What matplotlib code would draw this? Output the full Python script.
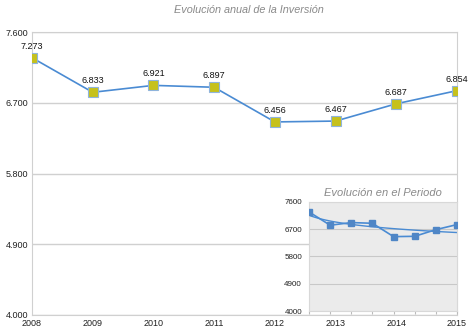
import numpy as np
import matplotlib
matplotlib.use('Agg')
import matplotlib.pyplot as plt
from matplotlib.ticker import FuncFormatter

plt.rcParams['font.family'] = ['Liberation Sans', 'DejaVu Sans']

# datos
years = [2008, 2009, 2010, 2011, 2012, 2013, 2014, 2015]
inversion = [7273, 6833, 6921, 6897, 6456, 6467, 6687, 6854]
y_ticks = [4000, 4900, 5800, 6700, 7600]

LINE = '#4a8bd3'
MARKER = '#c6c11c'
GRID = '#d0d0d0'


def miles(v, pos=None):
    """formato europeo: 7.600"""
    return '{:,.0f}'.format(v).replace(',', '.')


fig = plt.figure(figsize=(4.68, 3.3), dpi=100)

# grafico principal
ax = fig.add_axes([32 / 468, 1 - 315 / 330, 425 / 468, 283 / 330])
ax.plot(years, inversion, color=LINE, lw=1.2, marker='s', ms=7,
        mfc=MARKER, mec='#8fb4dc', mew=0.8, zorder=3)
for x, y in zip(years, inversion):
    ax.annotate(miles(y), (x, y), xytext=(0, 5), textcoords='offset points',
                ha='center', va='bottom', fontsize=6.5, color='#111111')
ax.set_xlim(2008, 2015)
ax.set_ylim(4000, 7600)
ax.set_yticks(y_ticks)
ax.set_xticks(years)
ax.yaxis.set_major_formatter(FuncFormatter(miles))
ax.grid(axis='y', color=GRID, lw=1)
ax.tick_params(labelsize=6.5, length=0, pad=3, colors='#222222')
ax.tick_params(axis='y', pad=3)
for s in ax.spines.values():
    s.set_color(GRID)
ax.set_axisbelow(True)
fig.text(249 / 468, 1 - 10 / 330, 'Evolución anual de la Inversión',
         ha='center', va='center', style='italic', fontsize=7.8, color='#8a8a8a')

# recuadro
ins = fig.add_axes([309 / 468, 1 - 311 / 330, 148 / 468, 109 / 330])
ins.set_facecolor('#ebebeb')
xi = np.arange(1, len(inversion) + 1)
ins.plot(xi, inversion, color=LINE, lw=1.2, marker='s', ms=4.5,
         mfc='#4f86c6', mec='#4f86c6', zorder=3)
# linea de tendencia logaritmica
b, a = np.polyfit(np.log(xi), inversion, 1)
xt = np.linspace(1, len(inversion), 60)
ins.plot(xt, a + b * np.log(xt), color=LINE, lw=1, zorder=2)
ins.set_xlim(1, len(inversion))
ins.set_ylim(4000, 7600)
ins.set_yticks(y_ticks)
ins.set_xticks(xi)
ins.set_xticklabels([])
ins.grid(axis='y', color='#c8c8c8', lw=0.8)
ins.set_axisbelow(True)
ins.tick_params(axis='y', labelsize=5.8, length=0, pad=5, colors='#222222')
ins.tick_params(axis='x', length=2, color='#bbbbbb')
for s in ins.spines.values():
    s.set_color('#d8d8d8')
ins.set_title('Evolución en el Periodo', style='italic', fontsize=8,
              color='#8a8a8a', pad=4)

fig.savefig('out.png', dpi=100)
